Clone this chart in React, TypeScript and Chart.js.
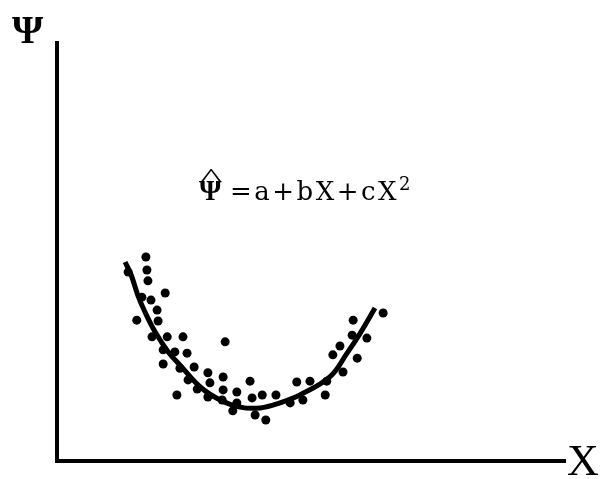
import React, { useEffect, useRef } from "react";
import { Chart, registerables } from "chart.js";

Chart.register(...registerables);

// Observed (X, Ψ) pairs
const obsX = [
  1.75, 1.77, 1.79, 1.40, 2.13, 1.85, 1.67, 1.97, 1.57, 1.99,
  1.87, 2.17, 2.48, 3.31, 2.09, 2.32, 2.56, 2.09, 2.42, 2.70,
  2.97, 3.27, 3.80, 2.58, 2.76, 3.01, 3.27, 3.54, 2.36, 2.97,
  3.84, 4.04, 4.31, 3.25, 3.54, 3.46, 3.90, 4.11, 4.72, 4.98,
  5.31, 5.28, 4.84, 4.59, 5.57, 5.43, 5.63, 6.42, 5.83, 6.10,
  5.81, 5.91,
];
const obsY = [
  4.88, 4.57, 4.31, 4.52, 4.02, 3.85, 3.92, 3.61, 3.37, 3.35,
  2.97, 2.97, 2.97, 2.85, 2.66, 2.61, 2.58, 2.32, 2.22, 2.25,
  2.11, 2.01, 1.91, 1.94, 1.72, 1.87, 1.70, 1.65, 1.58, 1.53,
  1.51, 1.58, 1.58, 1.46, 1.39, 1.20, 1.10, 0.98, 1.89, 1.91,
  1.91, 1.58, 1.46, 1.39, 2.75, 2.54, 2.13, 3.54, 3.37, 2.94,
  3.01, 2.46,
];

// Fitted curve Ψ̂ = a + bX + cX²
const fitX = [
  1.34, 1.46, 1.59, 1.73, 1.93, 2.19, 2.44, 2.82, 3.21, 3.60,
  4.00, 4.39, 4.78, 5.37, 5.71, 5.97, 6.26,
];
const fitY = [
  4.76, 4.45, 3.97, 3.57, 3.09, 2.61, 2.27, 1.77, 1.46, 1.29,
  1.27, 1.39, 1.58, 2.01, 2.58, 3.06, 3.66,
];

const axisMin = 0;
const axisMax = 10;

const labelsPlugin = {
  id: "labels",
  afterDraw(chart: any) {
    const ctx = chart.ctx as CanvasRenderingContext2D;
    ctx.save();
    ctx.fillStyle = "#000";
    ctx.textBaseline = "alphabetic";
    ctx.textAlign = "left";

    // axis names
    ctx.font = "bold 40px 'Liberation Serif'";
    ctx.fillText("Ψ", 12, 43);
    ctx.font = "44px 'Liberation Serif'";
    ctx.fillText("X", 567, 475);

    // equation
    ctx.font = "bold 29px 'Liberation Serif'";
    ctx.fillText("Ψ", 199, 200);
    // wide hat over the Ψ
    ctx.save();
    ctx.translate(211, 186);
    ctx.scale(1.7, 1);
    ctx.font = "26px 'Liberation Serif'";
    ctx.textAlign = "center";
    ctx.fillText("^", 0, 0);
    ctx.restore();

    ctx.font = "26px 'DejaVu Serif'";
    (ctx as any).letterSpacing = "2.5px";
    ctx.fillText("=a+bX+cX", 230, 200);
    const w = ctx.measureText("=a+bX+cX").width;
    (ctx as any).letterSpacing = "0px";
    ctx.font = "18px 'DejaVu Serif'";
    ctx.fillText("2", 230 + w, 190);
    ctx.restore();
  },
};

export default function App() {
  const ref = useRef<HTMLCanvasElement>(null);

  useEffect(() => {
    if (!ref.current) return;
    const chart = new Chart(ref.current, {
      type: "scatter",
      data: {
        datasets: [
          {
            type: "line",
            data: fitX.map((x, i) => ({ x, y: fitY[i] })),
            borderColor: "#000",
            borderWidth: 5,
            pointRadius: 0,
            tension: 0.4,
            fill: false,
          },
          {
            data: obsX.map((x, i) => ({ x, y: obsY[i] })),
            backgroundColor: "#000",
            borderColor: "#000",
            pointRadius: 4.5,
            pointBorderWidth: 0,
          },
        ],
      },
      options: {
        responsive: false,
        animation: false,
        layout: { padding: { left: 49, top: 43, right: 35, bottom: 10 } },
        plugins: {
          legend: { display: false },
          tooltip: { enabled: false },
        },
        scales: {
          x: {
            type: "linear",
            min: axisMin,
            max: axisMax,
            grid: { display: false },
            ticks: { display: false },
            border: { display: true, color: "#000", width: 4 },
          },
          y: {
            type: "linear",
            min: axisMin,
            max: axisMax,
            grid: { display: false },
            ticks: { display: false },
            border: { display: true, color: "#000", width: 4 },
          },
        },
      },
      plugins: [labelsPlugin],
    });
    return () => chart.destroy();
  }, []);

  return (
    <div style={{ position: "fixed", left: 0, top: 0, width: 600, height: 479, background: "#fff" }}>
      <canvas ref={ref} width={600} height={479} />
    </div>
  );
}
